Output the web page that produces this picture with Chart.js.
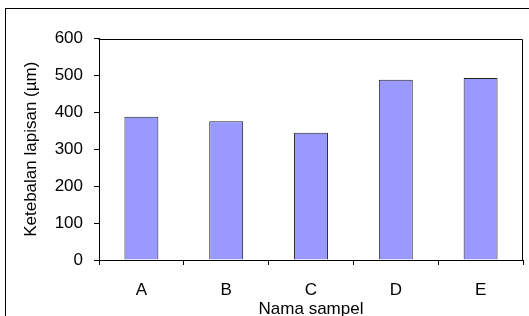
<!DOCTYPE html>
<html>
<head>
<meta charset="utf-8">
<script src="https://cdn.jsdelivr.net/npm/chart.js@4"></script>
<style>
  html, body { margin: 0; padding: 0; background: #fff; }
  canvas { display: block; }
</style>
</head>
<body>
<canvas id="chart" width="529" height="316"></canvas>
<script>
// data
const categories = ['A', 'B', 'C', 'D', 'E'];
const thickness = [388, 376, 345, 488, 493];
const yTicks = [0, 100, 200, 300, 400, 500, 600];

const fontFamily = '"Liberation Sans", Arial, sans-serif';

// outer frame + border round the plot area
const frames = {
  id: 'frames',
  beforeDraw(chart) {
    const ctx = chart.ctx;
    ctx.save();
    ctx.strokeStyle = '#000';
    ctx.lineWidth = 1;
    ctx.strokeRect(5.5, 8.5, chart.width + 20, chart.height + 20);
    ctx.restore();
  },
  afterDraw(chart) {
    const a = chart.chartArea;
    const ctx = chart.ctx;
    ctx.save();
    ctx.strokeStyle = '#000';
    ctx.lineWidth = 1;
    ctx.beginPath();
    ctx.moveTo(Math.round(a.left) - 0.5, Math.round(a.top) + 0.5);
    ctx.lineTo(Math.round(a.right) - 0.5, Math.round(a.top) + 0.5);
    ctx.lineTo(Math.round(a.right) - 0.5, Math.round(a.bottom));
    ctx.stroke();
    ctx.restore();
  }
};

new Chart(document.getElementById('chart'), {
  type: 'bar',
  data: {
    labels: categories,
    datasets: [{
      data: thickness,
      backgroundColor: '#9999FF',
      borderColor: '#222',
      borderWidth: 1,
      barPercentage: 0.4,
      categoryPercentage: 1
    }]
  },
  options: {
    responsive: false,
    animation: false,
    layout: { padding: { left: 0, top: 38.5, right: 6, bottom: 0 } },
    plugins: {
      legend: { display: false },
      tooltip: { enabled: false }
    },
    scales: {
      x: {
        afterFit: (s) => { s.height = 56; },
        grid: { drawOnChartArea: false, tickLength: 5, color: '#000', offset: true },
        border: { color: '#000', width: 1 },
        ticks: { color: '#000', padding: 15.4, font: { family: fontFamily, size: 17 } },
        title: {
          display: true,
          text: 'Nama sampel',
          color: '#000',
          font: { family: fontFamily, size: 17 },
          padding: { top: 0, bottom: -3.8 }
        }
      },
      y: {
        min: 0,
        max: 600,
        afterFit: (s) => { s.width = 99; },
        afterBuildTicks: (s) => { s.ticks = yTicks.map(v => ({ value: v })); },
        grid: { drawOnChartArea: false, tickLength: 5, color: '#000' },
        border: { color: '#000', width: 1 },
        ticks: { color: '#000', padding: 11, font: { family: fontFamily, size: 17 } },
        title: {
          display: true,
          text: 'Ketebalan lapisan (µm)',
          color: '#000',
          font: { family: fontFamily, size: 17 },
          padding: { top: 21, bottom: 0 }
        }
      }
    }
  },
  plugins: [frames]
});
</script>
</body>
</html>
